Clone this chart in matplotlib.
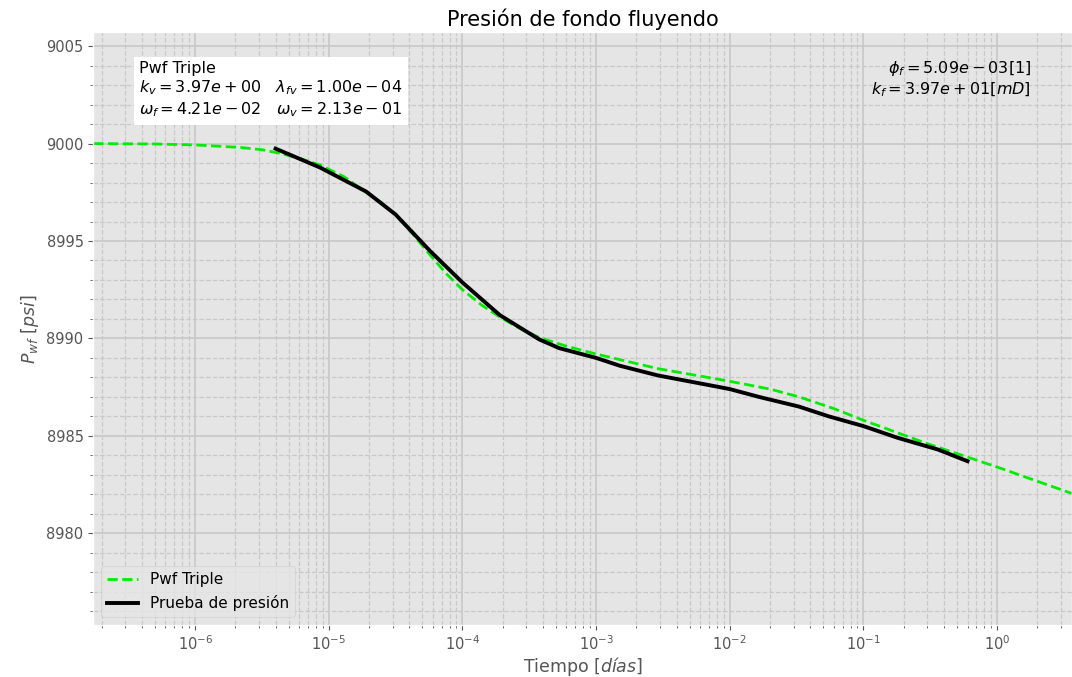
import numpy as np
import matplotlib.pyplot as plt

plt.style.use('ggplot')
plt.rcParams['font.family'] = ['DejaVu Sans']
plt.rcParams['mathtext.fontset'] = 'dejavusans'

# modelo Pwf Triple
t_modelo = [1.73e-7, 5e-7, 1e-6, 2.2e-6, 3.2e-6, 4.3e-6, 6e-6, 8.6e-6, 1.3e-5, 1.9e-5,
            2.5e-5, 3.2e-5, 4.2e-5, 5.7e-5, 7.5e-5, 1e-4, 1.4e-4, 1.9e-4, 2.7e-4, 3.75e-4,
            6e-4, 1e-3, 2.9e-3, 1e-2, 2e-2, 3.3e-2, 6e-2, 1e-1, 3e-1, 1.0, 3.6]
p_modelo = [9000.0, 8999.98, 8999.93, 8999.8, 8999.68, 8999.5, 8999.25, 8998.9, 8998.3, 8997.5,
            8996.95, 8996.3, 8995.4, 8994.3, 8993.35, 8992.5, 8991.7, 8991.1, 8990.5, 8990.05,
            8989.6, 8989.2, 8988.45, 8987.8, 8987.4, 8987.0, 8986.4, 8985.8, 8984.6, 8983.4, 8982.05]

# prueba de presion
t_prueba = [4.0e-6, 8.6e-6, 1.9e-5, 3.16e-5, 5.7e-5, 1e-4, 1.9e-4, 3.75e-4, 5.3e-4,
            1e-3, 1.5e-3, 2.9e-3, 5.9e-3, 1e-2, 1.65e-2, 3.3e-2, 5.5e-2, 0.1, 0.18, 0.36, 0.6]
p_prueba = [8999.74, 8998.77, 8997.54, 8996.36, 8994.5, 8992.87, 8991.2, 8989.95, 8989.5,
            8989.0, 8988.6, 8988.1, 8987.7, 8987.4, 8987.0, 8986.5, 8986.0, 8985.5, 8984.9,
            8984.3, 8983.7]

xticks = [1e-6, 1e-5, 1e-4, 1e-3, 1e-2, 1e-1, 1e0]
yticks = [8980, 8985, 8990, 8995, 9000, 9005]

fig = plt.figure(figsize=(10.72, 6.77), dpi=100)
ax = fig.add_axes([0.087, 0.077, 0.913, 0.875])

ax.semilogx(t_modelo, p_modelo, '--', color='#00ee00', lw=2, label='Pwf Triple')
ax.semilogx(t_prueba, p_prueba, '-', color='black', lw=2.8, label='Prueba de presión')

ax.set_xlim(1.73e-7, 3.63)
ax.set_ylim(8975.3, 9005.7)
ax.set_xticks(xticks)
ax.set_yticks(yticks)
ax.minorticks_on()
ax.grid(True, which='major', color='#c8c8c8', lw=1.2, ls='-')
ax.grid(True, which='minor', color='#c8c8c8', lw=0.9, ls='--')
ax.set_facecolor('#e5e5e5')

ax.set_title('Presión de fondo fluyendo', fontsize=15, color='black', pad=5)
ax.set_xlabel(r'Tiempo $[días]$', fontsize=12.5, labelpad=1)
ax.set_ylabel(r'$P_{wf}\ [psi]$', fontsize=12.5)
ax.tick_params(labelsize=10.5)

texto = ('Pwf Triple\n'
         r'$k_v = 3.97e+00$   $\lambda_{fv} = 1.00e-04$' + '\n'
         r'$\omega_f = 4.21e-02$   $\omega_v = 2.13e-01$')
ax.text(0.047, 0.952, texto, transform=ax.transAxes, fontsize=11.5, va='top',
        bbox=dict(facecolor='white', edgecolor='none', pad=4))
ax.text(0.958, 0.955, r'$\phi_f = 5.09e-03[1]$' + '\n' + r'$k_f = 3.97e+01[mD]$',
        transform=ax.transAxes, fontsize=11.5, va='top', ha='right')

ax.legend(loc='lower left', fontsize=11)

plt.savefig('out.png')
